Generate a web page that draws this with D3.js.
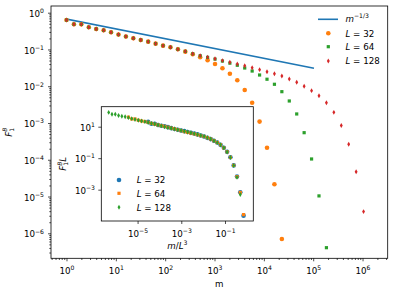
<!DOCTYPE html>
<html>
<head>
<meta charset="utf-8">
<script src="https://cdnjs.cloudflare.com/ajax/libs/d3/7.8.5/d3.min.js"></script>
<style>
body { margin: 0; background: #fff; }
svg { font-family: "DejaVu Sans", sans-serif; }
</style>
</head>
<body>
<div id="chart"></div>
<script>
"use strict";

// m values (cluster mass), shared by all L
var mValues = [1, 1.414, 2, 2.828, 4, 5.657, 8, 11.31, 16, 22.63, 32, 45.25, 64, 90.51, 128, 181.0,
	256, 362.0, 512, 724.1, 1024, 1448, 2048, 2896, 4096, 5793, 8192, 11585, 16384, 23170,
	32768, 46341, 65536, 92682, 131072, 185364, 262144, 370728, 524288, 741455, 1048576];

// F_1^B for each system size
var fL32 = [0.632, 0.484, 0.482, 0.401, 0.361, 0.332, 0.293, 0.254, 0.225, 0.201, 0.181, 0.163, 0.144,
	0.127, 0.115, 0.101, 0.0871, 0.0741, 0.0612, 0.0508, 0.0403, 0.0308, 0.0219, 0.0145, 0.00791,
	0.00356, 0.00109, 0.000213, 0.0000215, 0.0000007];
var fL64 = [0.632, 0.484, 0.482, 0.401, 0.361, 0.332, 0.293, 0.254, 0.225, 0.201, 0.181, 0.163, 0.144,
	0.127, 0.115, 0.101, 0.0887, 0.0762, 0.0676, 0.0610, 0.0547, 0.0484, 0.0425, 0.0372, 0.0313,
	0.0259, 0.0202, 0.0155, 0.0113, 0.00711, 0.00397, 0.00176, 0.000545, 0.000105, 0.0000104, 0.000000406];
var fL128 = [0.632, 0.484, 0.482, 0.401, 0.361, 0.332, 0.293, 0.254, 0.225, 0.201, 0.181, 0.163, 0.144,
	0.127, 0.115, 0.101, 0.0887, 0.0762, 0.0681, 0.0617, 0.0557, 0.0498, 0.0448, 0.0403, 0.0360,
	0.0319, 0.0282, 0.0248, 0.0219, 0.0190, 0.0157, 0.0128, 0.00995, 0.00757, 0.00553, 0.00356,
	0.00195, 0.000855, 0.000264, 0.0000474, 0.00000389];
var sizes = [32, 64, 128];

// reference power law m^-1/3
var lineM = [1, 100000];
var lineF = [0.67, 0.0311];

var xTicksMain = [1, 10, 100, 1000, 10000, 100000, 1000000];
var yTicksMain = [1e-6, 1e-5, 1e-4, 1e-3, 1e-2, 1e-1, 1];
var xTicksInset = [1e-5, 1e-3, 1e-1];
var yTicksInset = [1e-3, 1e-1, 10];

var C0 = "#1f77b4", C1 = "#ff7f0e", C2 = "#2ca02c", C3 = "#d62728";

var W = 396, H = 296;
var svg = d3.select("#chart").append("svg")
	.attr("width", W).attr("height", H);

// main axes box
var main = { left: 51, right: 387.7, top: 6, bottom: 258.3 };
var x = d3.scaleLog().domain([Math.pow(10, -0.314), Math.pow(10, 6.51)]).range([main.left, main.right]);
var y = d3.scaleLog().domain([Math.pow(10, -6.68), Math.pow(10, 0.182)]).range([main.bottom, main.top]);

// inset axes box
var ins = { left: 101.3, right: 253.3, top: 106.7, bottom: 221 };
var xi = d3.scaleLog().domain([Math.pow(10, -6.66), Math.pow(10, 0.295)]).range([ins.left, ins.right]);
var yi = d3.scaleLog().domain([Math.pow(10, -4.99), Math.pow(10, 2.27)]).range([ins.bottom, ins.top]);

var defs = svg.append("defs");
defs.append("clipPath").attr("id", "clipMain").append("rect")
	.attr("x", main.left).attr("y", main.top)
	.attr("width", main.right - main.left).attr("height", main.bottom - main.top);
defs.append("clipPath").attr("id", "clipInset").append("rect")
	.attr("x", ins.left).attr("y", ins.top)
	.attr("width", ins.right - ins.left).attr("height", ins.bottom - ins.top);

function expLabel(d) {
	var e = Math.round(Math.log10(d));
	return String(e).replace("-", "\u2212");
}

// put 10^n labels into axis tick texts
function powerLabels(sel) {
	sel.selectAll(".tick text").each(function(d) {
		var t = d3.select(this);
		t.text("");
		t.append("tspan").text("10");
		t.append("tspan").attr("dy", -3.8).attr("font-size", 6.1).text(expLabel(d));
	});
}

function styleAxis(g) {
	g.select(".domain").remove();
	g.selectAll(".tick line").attr("stroke", "#000").attr("stroke-width", 0.7);
	g.selectAll(".tick text").attr("fill", "#000").attr("font-size", 8.7)
		.attr("font-family", "DejaVu Sans");
}

function drawAxes(sx, sy, box, xMajors, yMajors, withMinor, xLabelY, yLabelX) {
	var gx = svg.append("g").attr("transform", "translate(0," + box.bottom + ")")
		.call(d3.axisBottom(sx).tickValues(xMajors).tickSize(3).tickFormat(""));
	styleAxis(gx);
	gx.selectAll(".tick text").attr("y", xLabelY).attr("dy", null);
	powerLabels(gx);

	var gy = svg.append("g").attr("transform", "translate(" + box.left + ",0)")
		.call(d3.axisLeft(sy).tickValues(yMajors).tickSize(3).tickFormat(""));
	styleAxis(gy);
	gy.selectAll(".tick text").attr("x", yLabelX).attr("dy", null).attr("y", 3.6);
	powerLabels(gy);

	if (withMinor) {
		var mx = sx.ticks().filter(function(d) { return Math.abs(Math.log10(d) % 1) > 1e-6; });
		var my = sy.ticks().filter(function(d) { return Math.abs(Math.log10(d) % 1) > 1e-6; });
		var gmx = svg.append("g").attr("transform", "translate(0," + box.bottom + ")")
			.call(d3.axisBottom(sx).tickValues(mx).tickSize(1.7).tickFormat(""));
		styleAxis(gmx);
		gmx.selectAll(".tick text").remove();
		var gmy = svg.append("g").attr("transform", "translate(" + box.left + ",0)")
			.call(d3.axisLeft(sy).tickValues(my).tickSize(1.7).tickFormat(""));
		styleAxis(gmy);
		gmy.selectAll(".tick text").remove();
	}
}

// marker shapes
function thinDiamond(w, h) {
	return "M0," + (-h / 2) + "L" + (w / 2) + ",0L0," + (h / 2) + "L" + (-w / 2) + ",0Z";
}

function drawMarkers(g, xs, ys, sx, sy, shape, color) {
	var pts = xs.map(function(v, i) { return [v, ys[i]]; });
	var sel = g.selectAll(null).data(pts).enter();
	if (shape == "circle") {
		sel.append("circle")
			.attr("cx", function(d) { return sx(d[0]); })
			.attr("cy", function(d) { return sy(d[1]); })
			.attr("r", 2.3).attr("fill", color);
	} else if (shape == "square") {
		sel.append("rect")
			.attr("x", function(d) { return sx(d[0]) - 1.6; })
			.attr("y", function(d) { return sy(d[1]) - 1.6; })
			.attr("width", 3.2).attr("height", 3.2).attr("fill", color);
	} else {
		sel.append("path")
			.attr("transform", function(d) { return "translate(" + sx(d[0]) + "," + sy(d[1]) + ")"; })
			.attr("d", thinDiamond(2.9, 4.9)).attr("fill", color);
	}
}

function legendMarker(g, cx, cy, shape, color) {
	drawMarkers(g, [1], [1], function() { return cx; }, function() { return cy; }, shape, color);
}

function legendText(g, tx, ty, L) {
	var t = g.append("text").attr("x", tx).attr("y", ty).attr("font-size", 8.7).attr("fill", "#000");
	t.append("tspan").attr("font-style", "italic").text("L");
	t.append("tspan").text(" = " + L);
}

// ---------- main plot ----------
var gMain = svg.append("g").attr("clip-path", "url(#clipMain)");

gMain.append("path")
	.datum(lineM.map(function(v, i) { return [v, lineF[i]]; }))
	.attr("d", d3.line().x(function(d) { return x(d[0]); }).y(function(d) { return y(d[1]); }))
	.attr("fill", "none").attr("stroke", C0).attr("stroke-width", 1.6)
	.attr("stroke-linecap", "square");

drawMarkers(gMain, mValues.slice(0, fL32.length), fL32, x, y, "circle", C1);
drawMarkers(gMain, mValues.slice(0, fL64.length), fL64, x, y, "square", C2);
drawMarkers(gMain, mValues.slice(0, fL128.length), fL128, x, y, "thin", C3);

drawAxes(x, y, main, xTicksMain, yTicksMain, true, 16, -7);

svg.append("rect")
	.attr("x", main.left).attr("y", main.top)
	.attr("width", main.right - main.left).attr("height", main.bottom - main.top)
	.attr("fill", "none").attr("stroke", "#000").attr("stroke-width", 0.8);

svg.append("text").attr("x", (main.left + main.right) / 2).attr("y", 286.5)
	.attr("text-anchor", "middle").attr("font-size", 8.7).text("m");

var yl = svg.append("text").attr("transform", "translate(11.5," + ((main.top + main.bottom) / 2) + ") rotate(-90)")
	.attr("text-anchor", "middle").attr("font-size", 8.7);
yl.append("tspan").attr("font-style", "italic").text("F");
yl.append("tspan").attr("font-size", 6.1).attr("dy", 2).text("1");
yl.append("tspan").attr("font-size", 6.1).attr("font-style", "italic").attr("dx", -3.9).attr("dy", -6.2).text("B");

// main legend
var leg = svg.append("g");
leg.append("line").attr("x1", 318).attr("x2", 338).attr("y1", 19.3).attr("y2", 19.3)
	.attr("stroke", C0).attr("stroke-width", 1.6);
var lt = leg.append("text").attr("x", 345.5).attr("y", 22).attr("font-size", 8.7);
lt.append("tspan").attr("font-style", "italic").text("m");
lt.append("tspan").attr("font-size", 6.1).attr("dy", -4.2).text("\u22121/3");
legendMarker(leg, 328.3, 33.3, "circle", C1);
legendMarker(leg, 328.3, 46.7, "square", C2);
legendMarker(leg, 328.3, 61, "thin", C3);
legendText(leg, 345.5, 36.5, sizes[0]);
legendText(leg, 345.5, 50, sizes[1]);
legendText(leg, 345.5, 64.2, sizes[2]);

// ---------- inset: collapse F*L vs m/L^3 ----------
svg.append("rect")
	.attr("x", ins.left).attr("y", ins.top)
	.attr("width", ins.right - ins.left).attr("height", ins.bottom - ins.top)
	.attr("fill", "#fff");

var gIns = svg.append("g").attr("clip-path", "url(#clipInset)");
var insetSeries = [[fL32, "circle", C0], [fL64, "square", C1], [fL128, "thin", C2]];
insetSeries.forEach(function(s, i) {
	var L = sizes[i];
	var vol = L * L * L;
	var xs = mValues.slice(0, s[0].length).map(function(m) { return m / vol; });
	var ys = s[0].map(function(f) { return f * L; });
	drawMarkers(gIns, xs, ys, xi, yi, s[1], s[2]);
});

drawAxes(xi, yi, ins, xTicksInset, yTicksInset, false, 15.5, -6.3);

svg.append("rect")
	.attr("x", ins.left).attr("y", ins.top)
	.attr("width", ins.right - ins.left).attr("height", ins.bottom - ins.top)
	.attr("fill", "none").attr("stroke", "#000").attr("stroke-width", 0.8);

var xil = svg.append("text").attr("x", (ins.left + ins.right) / 2).attr("y", 249)
	.attr("text-anchor", "middle").attr("font-size", 8.7);
xil.append("tspan").attr("font-style", "italic").text("m");
xil.append("tspan").text("/");
xil.append("tspan").attr("font-style", "italic").text("L");
xil.append("tspan").attr("font-size", 6.1).attr("dy", -4).text("3");

var yil = svg.append("text").attr("transform", "translate(66," + ((ins.top + ins.bottom) / 2) + ") rotate(-90)")
	.attr("text-anchor", "middle").attr("font-size", 8.7);
yil.append("tspan").attr("font-style", "italic").text("F");
yil.append("tspan").attr("font-size", 6.1).attr("dy", 2).text("1");
yil.append("tspan").attr("font-size", 6.1).attr("font-style", "italic").attr("dx", -3.9).attr("dy", -6.2).text("B");
yil.append("tspan").attr("font-style", "italic").attr("dy", 4.2).text("L");

// inset legend
var ileg = svg.append("g");
legendMarker(ileg, 119, 180, "circle", C0);
legendMarker(ileg, 119, 193.3, "square", C1);
legendMarker(ileg, 119, 207.3, "thin", C2);
legendText(ileg, 136.7, 183.2, sizes[0]);
legendText(ileg, 136.7, 196.5, sizes[1]);
legendText(ileg, 136.7, 210.5, sizes[2]);
</script>
</body>
</html>
